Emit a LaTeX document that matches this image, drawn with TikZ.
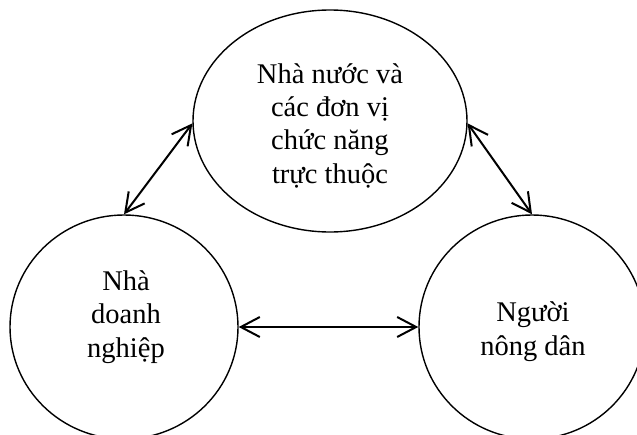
\documentclass[tikz,border=0pt]{standalone}
\usepackage{fontspec}
\setmainfont{Liberation Serif}
\usetikzlibrary{shapes.geometric,arrows.meta}
\begin{document}
\begin{tikzpicture}[x=1pt,y=-1pt,
  blob/.style={ellipse,draw,line width=1.4pt,inner sep=0pt},
  lbl/.style={align=center,font=\fontsize{28.5}{33.3}\selectfont,inner sep=0pt,anchor=base},
  barb/.tip={Straight Barb[length=19pt,width=20pt]},
  link/.style={line width=2pt,barb-barb}]
\useasboundingbox (0,0) rectangle (637,434);
\node[blob,minimum width=274pt,minimum height=222pt] (gov) at (330,121) {};
\node[blob,minimum width=228pt,minimum height=224pt] (biz) at (124,327) {};
\node[blob,minimum width=226pt,minimum height=224pt] (farm) at (532,327) {};
\node[lbl] (govt) at (330,183) {Nhà nước và\\các đơn vị\\chức năng\\trực thuộc};
\node[lbl] (bizt) at (126,357) {Nhà\\doanh\\nghiệp};
\node[lbl] (farmt) at (533,355) {Người\\nông dân};
\draw[link] (biz.90) -- (gov.181);
\draw[link] (gov.-1) -- (farm.90);
\draw[link] (biz.0) -- (farm.180);
\end{tikzpicture}
\end{document}
